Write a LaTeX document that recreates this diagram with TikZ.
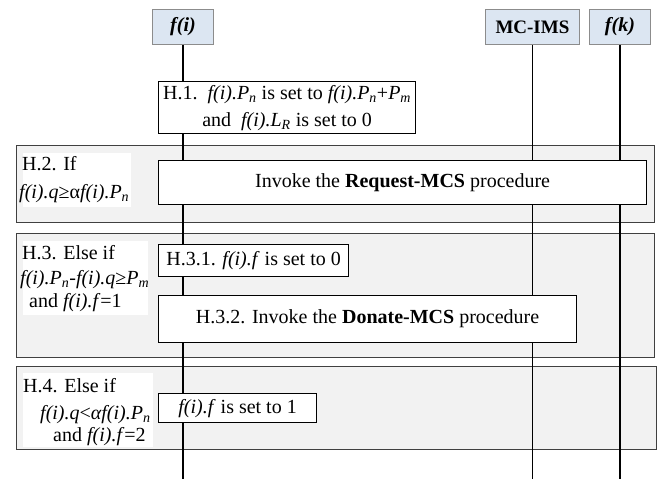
\documentclass[tikz,border=0pt]{standalone}
\usepackage{fontspec}
\setmainfont{Liberation Serif}
\definecolor{regionfill}{HTML}{F2F2F2}
\definecolor{regionline}{HTML}{404040}
\definecolor{headfill}{HTML}{DCE6F2}
\definecolor{headline}{HTML}{8C8C8C}
% italic subscript
\newcommand{\lsub}[1]{\textsubscript{\textit{#1}}}
\begin{document}
\begin{tikzpicture}[x=1pt,y=-1pt,
  every node/.style={font=\fontsize{20}{27}\selectfont},
  region/.style={draw=regionline,fill=regionfill,line width=1.2pt,anchor=north west,inner sep=0pt},
  labelbox/.style={fill=white,anchor=north west,inner sep=0pt},
  procbox/.style={draw=black,fill=white,line width=1.2pt,anchor=north west,inner sep=0pt,align=center},
  header/.style={draw=headline,fill=headfill,line width=0.9pt,anchor=north west,inner sep=0pt,minimum height=35pt},
  lifeline/.style={line width=1.8pt},
  txt/.style={anchor=base west,inner sep=0pt}]
\useasboundingbox (0,0) rectangle (657,479);

% condition regions
\node[region,minimum width=638pt,minimum height=77pt]  (r2) at (16,145) {};
\node[region,minimum width=638pt,minimum height=124pt] (r3) at (16,233) {};
\node[region,minimum width=640pt,minimum height=83pt]  (r4) at (16,366) {};

% participants
\node[header,minimum width=61pt] (fi) at (152,9) {\textbf{\textit{f(i)}}};
\node[header,minimum width=94pt] (mc) at (485,9) {\fontsize{19}{22}\selectfont\textbf{MC-IMS}};
\node[header,minimum width=61pt] (fk) at (589,9) {\textbf{\textit{f(k)}}};
\coordinate (bottom) at (0,479);

% lifelines
\draw[lifeline] (fi.south) -- (fi.south |- bottom);
\draw[lifeline] (mc.south) -- (mc.south |- bottom);
\draw[lifeline] (fk.south) -- (fk.south |- bottom);

% actions
\node[procbox,minimum width=257pt,minimum height=52pt] (h1) at (158,81)
  {H.1.\ \ \textit{f(i).P}\lsub{n} is set to \textit{f(i).P}\lsub{n}+\textit{P}\lsub{m}\\
   and\ \ \textit{f(i).L}\lsub{R} is set to 0};
\node[procbox,minimum width=488pt,minimum height=44pt] (h2) at (158,160)
  {Invoke the \textbf{Request-MCS} procedure};
\node[procbox,minimum width=190pt,minimum height=32pt] (h31) at (158,244)
  {H.3.1. \textit{f(i).f} is set to 0};
\node[procbox,minimum width=418pt,minimum height=47pt] (h32) at (158,295)
  {H.3.2. Invoke the \textbf{Donate-MCS} procedure};
\node[procbox,minimum width=158pt,minimum height=29pt] (h4) at (158,393)
  {\textit{f(i).f} is set to 1};

% condition labels
\node[labelbox,minimum width=108pt,minimum height=54pt] (l2) at (23,153) {};
\node[txt] (l2a) at (22,170) {H.2. If};
\node[txt] (l2b) at (19,198) {\textit{f(i).q}≥α\textit{f(i).P}\lsub{n}};

\node[labelbox,minimum width=125pt,minimum height=74pt] (l3) at (23,241) {};
\node[txt] (l3a) at (22,259) {H.3. Else if};
\node[txt] (l3b) at (20,284) {\textit{f(i).P}\lsub{n}-\textit{f(i).q}≥\textit{P}\lsub{m}};
\node[txt] (l3c) at (29,307) {and \textit{f(i).f}=1};

\node[labelbox,minimum width=130pt,minimum height=74pt] (l4) at (23,373) {};
\node[txt] (l4a) at (23,392) {H.4. Else if};
\node[txt] (l4b) at (40,419) {\textit{f(i).q}<\textit{αf(i).P}\lsub{n}};
\node[txt] (l4c) at (53,441) {and \textit{f(i).f}=2};
\end{tikzpicture}
\end{document}
